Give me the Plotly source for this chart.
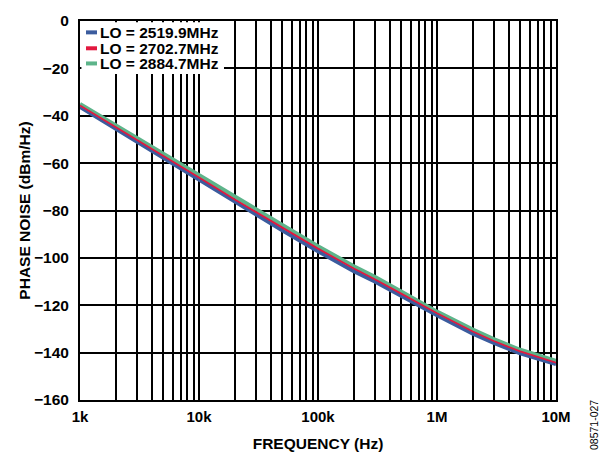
import plotly.graph_objects as go

freq_hz = [1e3, 2e3, 3e3, 5e3, 1e4, 2e4, 3e4, 5e4, 1e5, 2e5, 3e5, 5e5, 1e6, 2e6, 3e6, 5e6, 1e7]
pn_2519 = [-36.3, -45.6, -51.0, -57.9, -67.2, -76.5, -81.8, -88.4, -97.2, -105.6, -110.0, -116.1, -124.2, -132.0, -135.9, -140.3, -144.8]
pn_2702 = [-35.7, -44.8, -50.1, -57.0, -66.1, -75.4, -80.6, -87.3, -96.1, -104.5, -109.0, -115.1, -123.4, -131.1, -135.1, -139.5, -144.2]
pn_2884 = [-35.0, -44.0, -49.3, -56.0, -65.1, -74.3, -79.5, -86.2, -95.1, -103.5, -108.0, -114.2, -122.7, -130.3, -134.3, -138.8, -143.5]

series_names = ["LO = 2519.9MHz", "LO = 2702.7MHz", "LO = 2884.7MHz"]
series_colors = ["#3b5c9e", "#e2183f", "#5db48a"]
x_tickvals = [1e3, 1e4, 1e5, 1e6, 1e7]
x_ticktext = ["1k", "10k", "100k", "1M", "10M"]
y_tickvals = [0, -20, -40, -60, -80, -100, -120, -140, -160]
y_ticktext = ["0", "\u221220", "\u221240", "\u221260", "\u221280", "\u2212100", "\u2212120", "\u2212140", "\u2212160"]

FONT = "Arial, Liberation Sans, Helvetica, sans-serif"
BOLD = dict(family=FONT, color="black", weight="bold")

fig = go.Figure()
# draw order: blue, green, red on top
fig.add_trace(go.Scatter(x=freq_hz, y=pn_2519, mode="lines", name=series_names[0],
                         line=dict(color=series_colors[0], width=4)))
fig.add_trace(go.Scatter(x=freq_hz, y=pn_2884, mode="lines", name=series_names[2],
                         line=dict(color=series_colors[2], width=4)))
fig.add_trace(go.Scatter(x=freq_hz, y=pn_2702, mode="lines", name=series_names[1],
                         line=dict(color=series_colors[1], width=1.8)))

fig.update_layout(
    width=606, height=446,
    margin=dict(l=72, r=58, t=13, b=54, autoexpand=False),
    paper_bgcolor="white", plot_bgcolor="white",
    font=dict(family=FONT, size=15, color="black"),
    showlegend=False,
)

fig.update_xaxes(
    type="log", range=[3, 7], automargin=False,
    tickvals=x_tickvals, ticktext=x_ticktext,
    showgrid=True, gridcolor="black", gridwidth=1.6,
    minor=dict(dtick="D1", showgrid=True, gridcolor="black", gridwidth=1.6, ticks=""),
    showline=True, linecolor="black", linewidth=2, mirror=True,
    ticks="", tickfont=dict(size=15, **BOLD), ticklabelstandoff=2,
    title=dict(text="FREQUENCY (Hz)", font=dict(size=15.5, **BOLD), standoff=14),
    zeroline=False,
)
fig.update_yaxes(
    range=[-160, 0], automargin=False,
    tickvals=y_tickvals, ticktext=y_ticktext,
    showgrid=True, gridcolor="black", gridwidth=1.6,
    showline=True, linecolor="black", linewidth=2, mirror=True,
    ticks="", tickfont=dict(size=15.5, **BOLD), ticklabelstandoff=6,
    title=dict(text="PHASE NOISE (dBm/Hz)", font=dict(size=15.5, **BOLD), standoff=0),
    zeroline=False,
)

# legend box (white, covering grid) with line samples and labels
fig.add_shape(type="rect", xref="x domain", yref="y domain",
              x0=0.003, x1=0.3025, y0=0.860, y1=0.997,
              fillcolor="white", line=dict(width=0), layer="above")
legend_rows = [0.970, 0.928, 0.888]
for name, color, yrow in zip(series_names, series_colors, legend_rows):
    fig.add_shape(type="line", xref="x domain", yref="y domain",
                  x0=0.0126, x1=0.0357, y0=yrow, y1=yrow,
                  line=dict(color=color, width=4), layer="above")
    fig.add_annotation(text=name, xref="x domain", yref="y domain",
                       x=0.039, y=yrow, xanchor="left", yanchor="middle",
                       height=15, valign="middle", borderpad=0,
                       showarrow=False, font=dict(size=15.5, **BOLD))

fig.add_annotation(text="08571-027", xref="paper", yref="paper", x=1.0, y=0.0,
                   xshift=38, yshift=-52, textangle=-90, showarrow=False,
                   xanchor="center", yanchor="bottom",
                   font=dict(family=FONT, size=10.5, color="black"))

fig.write_html("out.html")
